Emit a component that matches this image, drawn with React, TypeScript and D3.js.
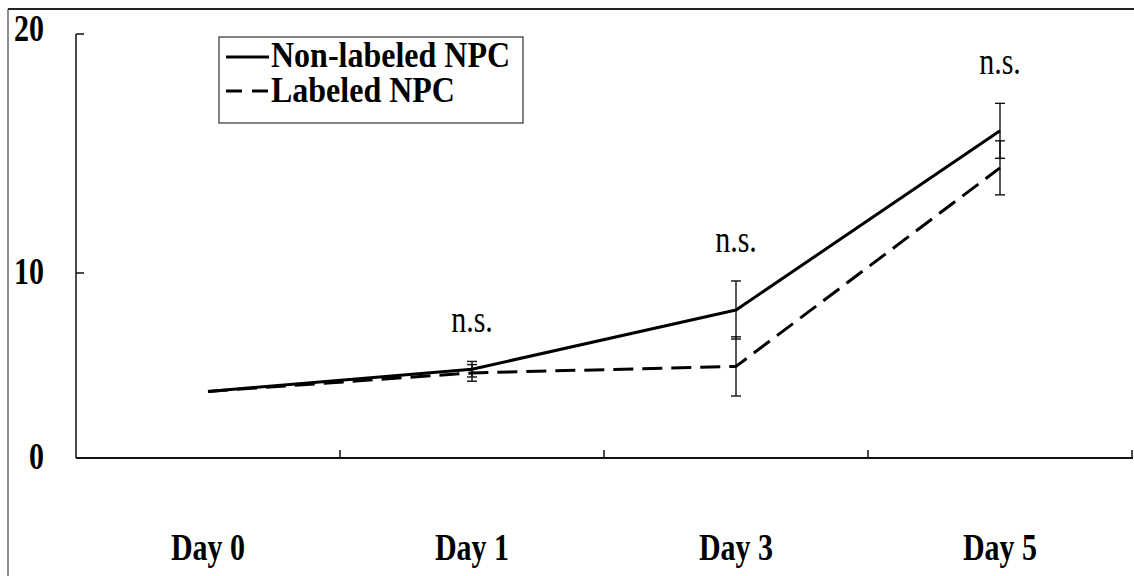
import React from "react";
import * as d3 from "d3";

const categories = ["Day 0", "Day 1", "Day 3", "Day 5"];
const nonLabeled = [3.6, 4.8, 8.0, 15.95];
const nonLabeledErr = [0, 0.42, 1.57, 1.15];
const labeled = [3.6, 4.6, 4.95, 14.4];
const labeledErr = [0, 0.45, 1.6, 1.13];
const yTicks = [0, 10, 20];
const nsLabels = [null, "n.s.", "n.s.", "n.s."];
const seriesNames = ["Non-labeled NPC", "Labeled NPC"];

const W = 1134;
const H = 576;
const FONT = "'Liberation Serif', 'Times New Roman', serif";

function T(props: {
  x: number;
  y: number;
  anchor?: "start" | "middle" | "end";
  bold?: boolean;
  size: number;
  sy?: number;
  children: React.ReactNode;
}) {
  return (
    <text
      transform={`translate(${props.x},${props.y}) scale(1,${props.sy ?? 1.25})`}
      textAnchor={props.anchor || "start"}
      fontWeight={props.bold ? "bold" : "normal"}
      fontSize={props.size}
      fontFamily={FONT}
      fill="#000"
    >
      {props.children}
    </text>
  );
}

export default function App() {
  const x = d3.scaleBand<string>().domain(categories).range([76, 1132]).padding(0);
  // axis as drawn in the original is not uniformly spaced between ticks
  const y = d3.scaleLinear().domain([0, 10, 20]).range([458, 273, 34]);
  const cx = (c: string) => (x(c) as number) + x.bandwidth() / 2;

  const line = d3
    .line<number>()
    .x((_, i) => cx(categories[i]))
    .y((d) => y(d));

  const series = [
    { vals: nonLabeled, err: nonLabeledErr, dash: null as string | null },
    { vals: labeled, err: labeledErr, dash: "20 9" },
  ];

  const boundaries = categories.slice(1).map((c) => x(c) as number);

  return (
    <svg
      width={W}
      height={H}
      style={{ position: "absolute", left: 0, top: 0, background: "#fff" }}
    >
      <rect x={0} y={0} width={W} height={H} fill="#fff" />
      {/* outer frame */}
      <line x1={8} y1={9} x2={W} y2={9} stroke="#222" strokeWidth={2} />
      <line x1={8} y1={9} x2={8} y2={H} stroke="#444" strokeWidth={1.2} />

      {/* y axis */}
      <line x1={76} y1={y(20)} x2={76} y2={y(0)} stroke="#111" strokeWidth={1.5} />
      {yTicks.map((t) => (
        <g key={t}>
          <line x1={76} x2={84} y1={y(t)} y2={y(t)} stroke="#111" strokeWidth={1.5} />
          <T x={44} y={y(t) + 11 - (t === 20 ? 4 : 0)} anchor="end" bold size={30}>
            {t}
          </T>
        </g>
      ))}

      {/* x axis */}
      <line x1={76} y1={y(0)} x2={1133} y2={y(0)} stroke="#111" strokeWidth={1.8} />
      {boundaries.concat([1132]).map((b, i) => (
        <line key={i} x1={b} x2={b} y1={y(0)} y2={y(0) - 8} stroke="#111" strokeWidth={1.5} />
      ))}
      {categories.map((c) => (
        <T key={c} x={cx(c)} y={560} anchor="middle" bold size={30}>
          {c}
        </T>
      ))}

      {/* error bars */}
      {series.map((s, si) =>
        s.vals.map((v, i) => {
          const e = s.err[i];
          if (!e) return null;
          const px = cx(categories[i]);
          return (
            <g key={`e${si}-${i}`} stroke="#111" strokeWidth={1.4}>
              <line x1={px} x2={px} y1={y(v + e)} y2={y(v - e)} />
              <line x1={px - 5} x2={px + 5} y1={y(v + e)} y2={y(v + e)} />
              <line x1={px - 5} x2={px + 5} y1={y(v - e)} y2={y(v - e)} />
            </g>
          );
        })
      )}

      {/* lines */}
      {series.map((s, si) => (
        <path
          key={si}
          d={line(s.vals) || ""}
          fill="none"
          stroke="#000"
          strokeWidth={3}
          strokeDasharray={s.dash || undefined}
          strokeLinejoin="round"
        />
      ))}

      {/* n.s. labels */}
      {categories.map((c, i) =>
        nsLabels[i] ? (
          <T
            key={`ns${i}`}
            x={cx(c)}
            y={y(Math.max(nonLabeled[i] + nonLabeledErr[i], labeled[i] + labeledErr[i])) - 29}
            anchor="middle"
            size={30}
          >
            {nsLabels[i]}
          </T>
        ) : null
      )}

      {/* legend */}
      <g>
        <rect x={219} y={37} width={304} height={86} fill="#fff" stroke="#333" strokeWidth={1.2} />
        {seriesNames.map((n, i) => (
          <g key={n}>
            <line
              x1={226}
              x2={269}
              y1={57 + i * 34}
              y2={57 + i * 34}
              stroke="#000"
              strokeWidth={3}
              strokeDasharray={i === 1 ? "16 10" : undefined}
            />
            <T x={271} y={67 + i * 35} bold size={32} sy={1.1}>
              {n}
            </T>
          </g>
        ))}
      </g>
    </svg>
  );
}
